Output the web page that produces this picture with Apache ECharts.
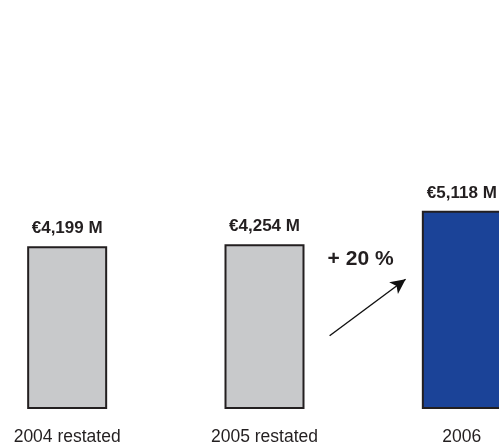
<!DOCTYPE html>
<html>
<head>
<meta charset="utf-8">
<title>Revenue 2004–2006</title>
<script src="https://cdn.jsdelivr.net/npm/echarts@6/dist/echarts.min.js"></script>
<style>
  html, body { margin: 0; padding: 0; background: #ffffff; }
  #chart { width: 499px; height: 444px; }
</style>
</head>
<body>
<div id="chart"></div>
<script>
// Annual totals in millions of euros
const categories = ['2004 restated', '2005 restated', '2006'];
const revenue = [4199, 4254, 5118];
const barColors = ['#c8c9cb', '#c8c9cb', '#1b4398'];

// Growth from the previous year to the last one
const growthPct = Math.round((revenue[2] / revenue[1] - 1) * 100);

// Arrow and growth label, in (category position, value) units
const arrowStart = [1.33, 1890];
const arrowEnd = [1.715, 3350];
const growthLabelAt = [1.487, 3870];

const fmt = v => '€' + v.toLocaleString('en-US') + ' M';

const chart = echarts.init(document.getElementById('chart'), null, { renderer: 'canvas' });

chart.setOption({
  animation: false,
  backgroundColor: '#ffffff',
  grid: {
    left: -31.5, width: 592, top: 176.5, bottom: 35,
    containLabel: false, outerBoundsMode: 'none'
  },
  xAxis: [
    {
      type: 'category',
      data: categories,
      axisLine: { show: false },
      axisTick: { show: false },
      axisLabel: {
        margin: 19,
        color: '#231f20',
        fontFamily: 'Liberation Sans, Arial, sans-serif',
        fontSize: 17.5
      }
    },
    { type: 'value', min: -0.5, max: 2.5, show: false }
  ],
  yAxis: { type: 'value', min: 0, max: 6000, show: false },
  series: [
    {
      type: 'bar',
      data: revenue.map((v, i) => ({ value: v, itemStyle: { color: barColors[i] } })),
      barWidth: 80,
      itemStyle: { borderColor: '#231f20', borderWidth: 2 },
      label: {
        show: true,
        position: 'top',
        distance: 9,
        formatter: p => fmt(p.value),
        color: '#231f20',
        fontFamily: 'Liberation Sans, Arial, sans-serif',
        fontWeight: 'bold',
        fontSize: 17
      },
      silent: true
    },
    {
      type: 'scatter',
      xAxisIndex: 1,
      data: [],
      silent: true,
      markLine: {
        silent: true,
        symbol: ['none', 'arrow'],
        symbolSize: [11, 15],
        label: { show: false },
        lineStyle: { color: '#111111', width: 1.4, type: 'solid' },
        data: [[{ coord: arrowStart }, { coord: arrowEnd }]]
      },
      markPoint: {
        silent: true,
        symbol: 'circle',
        symbolSize: 0,
        label: {
          show: true,
          position: 'inside',
          formatter: '+ ' + growthPct + ' %',
          color: '#231f20',
          fontFamily: 'Liberation Sans, Arial, sans-serif',
          fontWeight: 'bold',
          fontSize: 21
        },
        data: [{ coord: growthLabelAt }]
      }
    }
  ]
});
</script>
</body>
</html>
